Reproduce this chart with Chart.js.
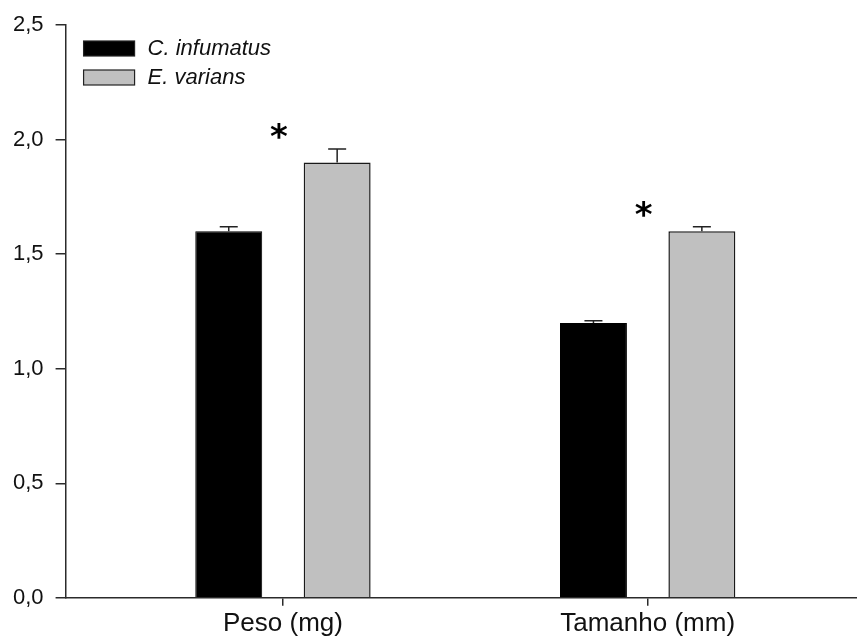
<!DOCTYPE html>
<html>
<head>
<meta charset="utf-8">
<script src="https://cdn.jsdelivr.net/npm/chart.js@4"></script>
<style>
  html, body { margin: 0; padding: 0; background: #fff; }
  #wrap { width: 857px; height: 641px; }
</style>
</head>
<body>
<div id="wrap"><canvas id="chart" width="857" height="641"></canvas></div>
<script>
// values
const categories = ['Peso (mg)', 'Tamanho (mm)'];
const seriesNames = ['C. infumatus', 'E. varians'];
const infumatus = [1.60, 1.20];
const varians = [1.90, 1.60];
const infumatusErr = [0.02, 0.01];
const variansErr = [0.06, 0.02];
const starLevels = [2.03, 1.69]; // where the * sits above each group
const yTicks = [0, 0.5, 1.0, 1.5, 2.0, 2.5];

const FONT = '"Liberation Sans", Arial, sans-serif';
const AXIS = '#2b2b2b';

function toPoints(vals) {
  return vals.map((v, i) => ({ x: i + 1, y: v }));
}

// error bars, one sided (upwards) like SigmaPlot
const errorBars = {
  id: 'errorBars',
  afterDatasetsDraw(chart) {
    const ctx = chart.ctx;
    const y = chart.scales.y;
    const errs = [infumatusErr, variansErr];
    ctx.save();
    ctx.strokeStyle = '#222';
    ctx.lineWidth = 1.5;
    chart.data.datasets.forEach((ds, di) => {
      const meta = chart.getDatasetMeta(di);
      meta.data.forEach((bar, i) => {
        const top = bar.y;
        const end = y.getPixelForValue(ds.data[i].y + errs[di][i]);
        ctx.beginPath();
        ctx.moveTo(bar.x, top);
        ctx.lineTo(bar.x, end);
        ctx.moveTo(bar.x - 9, end);
        ctx.lineTo(bar.x + 9, end);
        ctx.stroke();
      });
    });
    ctx.restore();
  }
};

// asterisks marking significant differences
const stars = {
  id: 'stars',
  afterDatasetsDraw(chart) {
    const ctx = chart.ctx;
    const x = chart.scales.x, y = chart.scales.y;
    ctx.save();
    ctx.fillStyle = '#000';
    ctx.font = 'bold 34px "DejaVu Sans", sans-serif';
    ctx.textAlign = 'center';
    ctx.textBaseline = 'middle';
    starLevels.forEach((lvl, i) => {
      ctx.fillText('*', x.getPixelForValue(i + 1) - 4, y.getPixelForValue(lvl) + 6);
    });
    ctx.restore();
  }
};

// legend drawn inside the plot, top left
const innerLegend = {
  id: 'innerLegend',
  afterDraw(chart) {
    const ctx = chart.ctx;
    const left = chart.chartArea.left + 18;
    let top = 41;
    ctx.save();
    ctx.font = 'italic 22px ' + FONT;
    ctx.textBaseline = 'middle';
    chart.data.datasets.forEach(ds => {
      ctx.fillStyle = ds.backgroundColor;
      ctx.fillRect(left, top, 51, 15);
      ctx.strokeStyle = '#222';
      ctx.lineWidth = 1.2;
      ctx.strokeRect(left, top, 51, 15);
      ctx.fillStyle = '#111';
      ctx.fillText(ds.label, left + 64, top + 8);
      top += 29;
    });
    ctx.restore();
  }
};

new Chart(document.getElementById('chart'), {
  type: 'bar',
  data: {
    datasets: [
      {
        label: seriesNames[0],
        data: toPoints(infumatus),
        backgroundColor: '#000000',
        borderColor: '#000000',
        borderWidth: 1,
      },
      {
        label: seriesNames[1],
        data: toPoints(varians),
        backgroundColor: '#c0c0c0',
        borderColor: '#1a1a1a',
        borderWidth: 1.5,
      },
    ],
  },
  options: {
    responsive: false,
    animation: false,
    devicePixelRatio: 1,
    categoryPercentage: 0.5945,
    barPercentage: 0.6175,
    layout: { padding: { top: 8, right: 0, bottom: 0, left: 1 } },
    plugins: {
      legend: { display: false },
      tooltip: { enabled: false },
    },
    scales: {
      x: {
        type: 'linear',
        offset: false,
        min: 0.404,
        max: 2.574,
        afterBuildTicks: (axis) => {
          axis.ticks = categories.map((c, i) => ({ value: i + 1 }));
        },
        ticks: {
          callback: (v) => categories[Math.round(v) - 1],
          font: { family: FONT, size: 26 },
          color: '#111',
          padding: 2,
          maxRotation: 0,
          autoSkip: false,
        },
        grid: { offset: false, drawOnChartArea: false, tickLength: 8, color: AXIS, lineWidth: 1.5 },
        border: { color: AXIS, width: 1.5 },
      },
      y: {
        min: 0,
        max: 2.5,
        afterBuildTicks: (axis) => {
          axis.ticks = yTicks.map(v => ({ value: v }));
        },
        ticks: {
          callback: (v) => v.toFixed(1).replace('.', ','),
          font: { family: FONT, size: 22 },
          color: '#111',
          padding: 12,
        },
        grid: { drawOnChartArea: false, tickLength: 10, color: AXIS, lineWidth: 1.5 },
        border: { color: AXIS, width: 1.5 },
      },
    },
  },
  plugins: [errorBars, stars, innerLegend],
});
</script>
</body>
</html>
